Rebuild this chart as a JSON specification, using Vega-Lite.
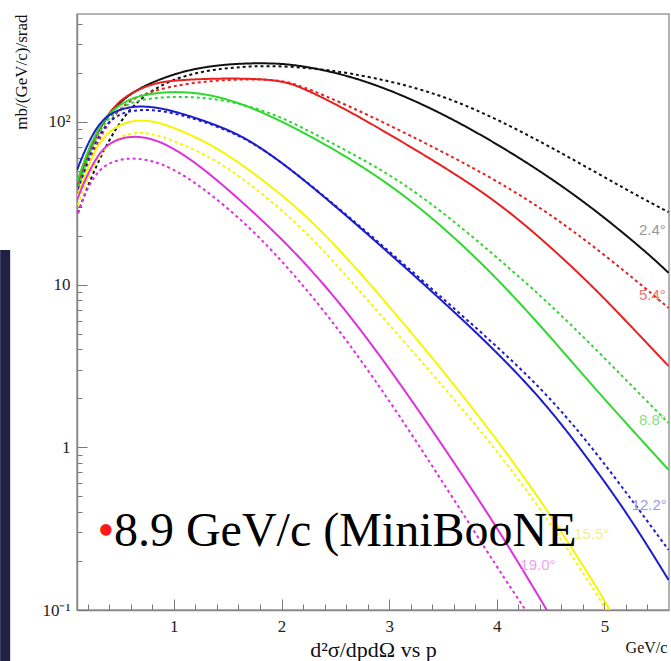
{
  "$schema": "https://vega.github.io/schema/vega-lite/v6.json",
  "width": 592,
  "height": 596,
  "autosize": {"type": "none"},
  "padding": {"left": 77, "top": 14, "right": 2, "bottom": 51},
  "background": "white",
  "config": {"view": {"stroke": "#9a9a9a", "strokeWidth": 1.5}, "font": "Liberation Serif"},
  "resolve": {"scale": {"color": "independent"}},
  "datasets": {
    "curves": [
      {"a": "2.4°", "m": "solid", "p": 0.1, "s": 40.9}, {"a": "2.4°", "m": "solid", "p": 0.174, "s": 58.3}, {"a": "2.4°", "m": "solid", "p": 0.267, "s": 80.7}, {"a": "2.4°", "m": "solid", "p": 0.36, "s": 102.6}, {"a": "2.4°", "m": "solid", "p": 0.452, "s": 123.4}, {"a": "2.4°", "m": "solid", "p": 0.591, "s": 148.3}, {"a": "2.4°", "m": "solid", "p": 0.777, "s": 173.3}, {"a": "2.4°", "m": "solid", "p": 1.055, "s": 202.5}, {"a": "2.4°", "m": "solid", "p": 1.333, "s": 220.4}, {"a": "2.4°", "m": "solid", "p": 1.611, "s": 228.4}, {"a": "2.4°", "m": "solid", "p": 1.889, "s": 229.9}, {"a": "2.4°", "m": "solid", "p": 2.167, "s": 223.6}, {"a": "2.4°", "m": "solid", "p": 2.63, "s": 192.7}, {"a": "2.4°", "m": "solid", "p": 3.093, "s": 149.4}, {"a": "2.4°", "m": "solid", "p": 3.557, "s": 107.1}, {"a": "2.4°", "m": "solid", "p": 4.02, "s": 72.0}, {"a": "2.4°", "m": "solid", "p": 4.484, "s": 46.1}, {"a": "2.4°", "m": "solid", "p": 4.947, "s": 27.7}, {"a": "2.4°", "m": "solid", "p": 5.411, "s": 15.4}, {"a": "2.4°", "m": "solid", "p": 5.596, "s": 11.8},
      {"a": "2.4°", "m": "dashed", "p": 0.109, "s": 27.5}, {"a": "2.4°", "m": "dashed", "p": 0.22, "s": 43.9}, {"a": "2.4°", "m": "dashed", "p": 0.341, "s": 65.3}, {"a": "2.4°", "m": "dashed", "p": 0.452, "s": 89.1}, {"a": "2.4°", "m": "dashed", "p": 0.563, "s": 113.3}, {"a": "2.4°", "m": "dashed", "p": 0.712, "s": 144.1}, {"a": "2.4°", "m": "dashed", "p": 0.962, "s": 180.7}, {"a": "2.4°", "m": "dashed", "p": 1.268, "s": 205.4}, {"a": "2.4°", "m": "dashed", "p": 1.583, "s": 217.3}, {"a": "2.4°", "m": "dashed", "p": 1.889, "s": 222.0}, {"a": "2.4°", "m": "dashed", "p": 2.287, "s": 214.2}, {"a": "2.4°", "m": "dashed", "p": 2.63, "s": 199.6}, {"a": "2.4°", "m": "dashed", "p": 3.093, "s": 173.3}, {"a": "2.4°", "m": "dashed", "p": 3.557, "s": 140.1}, {"a": "2.4°", "m": "dashed", "p": 4.02, "s": 102.6}, {"a": "2.4°", "m": "dashed", "p": 4.484, "s": 71.0}, {"a": "2.4°", "m": "dashed", "p": 4.947, "s": 47.8}, {"a": "2.4°", "m": "dashed", "p": 5.411, "s": 32.2}, {"a": "2.4°", "m": "dashed", "p": 5.596, "s": 27.9},
      {"a": "5.4°", "m": "solid", "p": 0.1, "s": 39.8}, {"a": "5.4°", "m": "solid", "p": 0.174, "s": 55.8}, {"a": "5.4°", "m": "solid", "p": 0.267, "s": 79.6}, {"a": "5.4°", "m": "solid", "p": 0.36, "s": 105.6}, {"a": "5.4°", "m": "solid", "p": 0.499, "s": 136.2}, {"a": "5.4°", "m": "solid", "p": 0.656, "s": 156.9}, {"a": "5.4°", "m": "solid", "p": 0.804, "s": 170.9}, {"a": "5.4°", "m": "solid", "p": 0.962, "s": 179.6}, {"a": "5.4°", "m": "solid", "p": 1.36, "s": 184.7}, {"a": "5.4°", "m": "solid", "p": 1.703, "s": 184.7}, {"a": "5.4°", "m": "solid", "p": 1.981, "s": 179.6}, {"a": "5.4°", "m": "solid", "p": 2.167, "s": 166.1}, {"a": "5.4°", "m": "solid", "p": 2.63, "s": 116.6}, {"a": "5.4°", "m": "solid", "p": 3.093, "s": 77.3}, {"a": "5.4°", "m": "solid", "p": 3.557, "s": 50.6}, {"a": "5.4°", "m": "solid", "p": 4.02, "s": 31.7}, {"a": "5.4°", "m": "solid", "p": 4.484, "s": 17.5}, {"a": "5.4°", "m": "solid", "p": 4.947, "s": 9.0}, {"a": "5.4°", "m": "solid", "p": 5.411, "s": 4.25}, {"a": "5.4°", "m": "solid", "p": 5.596, "s": 3.16},
      {"a": "5.4°", "m": "dashed", "p": 0.1, "s": 35.5}, {"a": "5.4°", "m": "dashed", "p": 0.174, "s": 49.2}, {"a": "5.4°", "m": "dashed", "p": 0.267, "s": 69.1}, {"a": "5.4°", "m": "dashed", "p": 0.36, "s": 91.6}, {"a": "5.4°", "m": "dashed", "p": 0.499, "s": 121.6}, {"a": "5.4°", "m": "dashed", "p": 0.656, "s": 144.1}, {"a": "5.4°", "m": "dashed", "p": 0.962, "s": 166.1}, {"a": "5.4°", "m": "dashed", "p": 1.36, "s": 179.6}, {"a": "5.4°", "m": "dashed", "p": 1.703, "s": 183.3}, {"a": "5.4°", "m": "dashed", "p": 1.981, "s": 180.7}, {"a": "5.4°", "m": "dashed", "p": 2.167, "s": 168.4}, {"a": "5.4°", "m": "dashed", "p": 2.63, "s": 125.1}, {"a": "5.4°", "m": "dashed", "p": 3.093, "s": 89.1}, {"a": "5.4°", "m": "dashed", "p": 3.557, "s": 62.5}, {"a": "5.4°", "m": "dashed", "p": 4.02, "s": 42.7}, {"a": "5.4°", "m": "dashed", "p": 4.484, "s": 27.5}, {"a": "5.4°", "m": "dashed", "p": 4.947, "s": 16.3}, {"a": "5.4°", "m": "dashed", "p": 5.411, "s": 9.13}, {"a": "5.4°", "m": "dashed", "p": 5.596, "s": 7.18},
      {"a": "8.8°", "m": "solid", "p": 0.1, "s": 42.1}, {"a": "8.8°", "m": "solid", "p": 0.174, "s": 59.9}, {"a": "8.8°", "m": "solid", "p": 0.267, "s": 83.0}, {"a": "8.8°", "m": "solid", "p": 0.36, "s": 105.6}, {"a": "8.8°", "m": "solid", "p": 0.499, "s": 128.7}, {"a": "8.8°", "m": "solid", "p": 0.656, "s": 144.1}, {"a": "8.8°", "m": "solid", "p": 0.897, "s": 152.6}, {"a": "8.8°", "m": "solid", "p": 1.119, "s": 152.6}, {"a": "8.8°", "m": "solid", "p": 1.36, "s": 146.2}, {"a": "8.8°", "m": "solid", "p": 1.703, "s": 125.1}, {"a": "8.8°", "m": "solid", "p": 2.167, "s": 89.1}, {"a": "8.8°", "m": "solid", "p": 2.63, "s": 59.9}, {"a": "8.8°", "m": "solid", "p": 3.093, "s": 37.6}, {"a": "8.8°", "m": "solid", "p": 3.557, "s": 21.0}, {"a": "8.8°", "m": "solid", "p": 4.02, "s": 10.66}, {"a": "8.8°", "m": "solid", "p": 4.484, "s": 4.9}, {"a": "8.8°", "m": "solid", "p": 4.947, "s": 2.15}, {"a": "8.8°", "m": "solid", "p": 5.596, "s": 0.727},
      {"a": "8.8°", "m": "dashed", "p": 0.1, "s": 37.1}, {"a": "8.8°", "m": "dashed", "p": 0.174, "s": 54.3}, {"a": "8.8°", "m": "dashed", "p": 0.267, "s": 77.3}, {"a": "8.8°", "m": "dashed", "p": 0.36, "s": 99.8}, {"a": "8.8°", "m": "dashed", "p": 0.499, "s": 121.6}, {"a": "8.8°", "m": "dashed", "p": 0.656, "s": 136.2}, {"a": "8.8°", "m": "dashed", "p": 0.962, "s": 144.1}, {"a": "8.8°", "m": "dashed", "p": 1.425, "s": 140.1}, {"a": "8.8°", "m": "dashed", "p": 1.889, "s": 114.9}, {"a": "8.8°", "m": "dashed", "p": 2.167, "s": 94.3}, {"a": "8.8°", "m": "dashed", "p": 2.63, "s": 65.3}, {"a": "8.8°", "m": "dashed", "p": 3.093, "s": 43.9}, {"a": "8.8°", "m": "dashed", "p": 3.557, "s": 26.0}, {"a": "8.8°", "m": "dashed", "p": 4.02, "s": 14.35}, {"a": "8.8°", "m": "dashed", "p": 4.484, "s": 7.7}, {"a": "8.8°", "m": "dashed", "p": 4.947, "s": 3.85}, {"a": "8.8°", "m": "dashed", "p": 5.411, "s": 1.87}, {"a": "8.8°", "m": "dashed", "p": 5.596, "s": 1.41},
      {"a": "12.2°", "m": "solid", "p": 0.1, "s": 50.6}, {"a": "12.2°", "m": "solid", "p": 0.174, "s": 67.1}, {"a": "12.2°", "m": "solid", "p": 0.267, "s": 89.1}, {"a": "12.2°", "m": "solid", "p": 0.36, "s": 107.1}, {"a": "12.2°", "m": "solid", "p": 0.499, "s": 119.9}, {"a": "12.2°", "m": "solid", "p": 0.656, "s": 125.1}, {"a": "12.2°", "m": "solid", "p": 0.804, "s": 123.4}, {"a": "12.2°", "m": "solid", "p": 0.962, "s": 118.3}, {"a": "12.2°", "m": "solid", "p": 1.268, "s": 102.6}, {"a": "12.2°", "m": "solid", "p": 1.583, "s": 85.4}, {"a": "12.2°", "m": "solid", "p": 1.842, "s": 67.1}, {"a": "12.2°", "m": "solid", "p": 2.167, "s": 46.5}, {"a": "12.2°", "m": "solid", "p": 2.63, "s": 25.6}, {"a": "12.2°", "m": "solid", "p": 3.093, "s": 13.75}, {"a": "12.2°", "m": "solid", "p": 3.557, "s": 7.28}, {"a": "12.2°", "m": "solid", "p": 4.02, "s": 3.74}, {"a": "12.2°", "m": "solid", "p": 4.484, "s": 1.77}, {"a": "12.2°", "m": "solid", "p": 4.947, "s": 0.695}, {"a": "12.2°", "m": "solid", "p": 5.271, "s": 0.342}, {"a": "12.2°", "m": "solid", "p": 5.596, "s": 0.153},
      {"a": "12.2°", "m": "dashed", "p": 0.1, "s": 35.5}, {"a": "12.2°", "m": "dashed", "p": 0.174, "s": 52.0}, {"a": "12.2°", "m": "dashed", "p": 0.267, "s": 74.1}, {"a": "12.2°", "m": "dashed", "p": 0.36, "s": 95.6}, {"a": "12.2°", "m": "dashed", "p": 0.499, "s": 113.3}, {"a": "12.2°", "m": "dashed", "p": 0.656, "s": 118.3}, {"a": "12.2°", "m": "dashed", "p": 0.804, "s": 118.3}, {"a": "12.2°", "m": "dashed", "p": 0.962, "s": 114.9}, {"a": "12.2°", "m": "dashed", "p": 1.268, "s": 101.2}, {"a": "12.2°", "m": "dashed", "p": 1.583, "s": 84.2}, {"a": "12.2°", "m": "dashed", "p": 1.842, "s": 67.1}, {"a": "12.2°", "m": "dashed", "p": 2.167, "s": 46.5}, {"a": "12.2°", "m": "dashed", "p": 2.63, "s": 26.0}, {"a": "12.2°", "m": "dashed", "p": 3.093, "s": 14.15}, {"a": "12.2°", "m": "dashed", "p": 3.557, "s": 7.59}, {"a": "12.2°", "m": "dashed", "p": 4.02, "s": 4.07}, {"a": "12.2°", "m": "dashed", "p": 4.484, "s": 2.07}, {"a": "12.2°", "m": "dashed", "p": 4.947, "s": 0.896}, {"a": "12.2°", "m": "dashed", "p": 5.596, "s": 0.234},
      {"a": "15.5°", "m": "solid", "p": 0.1, "s": 34.5}, {"a": "15.5°", "m": "solid", "p": 0.174, "s": 47.1}, {"a": "15.5°", "m": "solid", "p": 0.267, "s": 67.1}, {"a": "15.5°", "m": "solid", "p": 0.36, "s": 83.0}, {"a": "15.5°", "m": "solid", "p": 0.499, "s": 97.0}, {"a": "15.5°", "m": "solid", "p": 0.656, "s": 102.6}, {"a": "15.5°", "m": "solid", "p": 0.804, "s": 101.2}, {"a": "15.5°", "m": "solid", "p": 0.962, "s": 94.3}, {"a": "15.5°", "m": "solid", "p": 1.268, "s": 77.3}, {"a": "15.5°", "m": "solid", "p": 1.583, "s": 58.3}, {"a": "15.5°", "m": "solid", "p": 2.167, "s": 29.5}, {"a": "15.5°", "m": "solid", "p": 2.63, "s": 14.15}, {"a": "15.5°", "m": "solid", "p": 3.093, "s": 6.23}, {"a": "15.5°", "m": "solid", "p": 3.557, "s": 2.66}, {"a": "15.5°", "m": "solid", "p": 4.02, "s": 1.077}, {"a": "15.5°", "m": "solid", "p": 4.484, "s": 0.4}, {"a": "15.5°", "m": "solid", "p": 4.947, "s": 0.133}, {"a": "15.5°", "m": "solid", "p": 5.132, "s": 0.0796},
      {"a": "15.5°", "m": "dashed", "p": 0.109, "s": 30.8}, {"a": "15.5°", "m": "dashed", "p": 0.174, "s": 40.9}, {"a": "15.5°", "m": "dashed", "p": 0.267, "s": 55.8}, {"a": "15.5°", "m": "dashed", "p": 0.36, "s": 69.1}, {"a": "15.5°", "m": "dashed", "p": 0.499, "s": 81.8}, {"a": "15.5°", "m": "dashed", "p": 0.656, "s": 86.6}, {"a": "15.5°", "m": "dashed", "p": 0.804, "s": 84.2}, {"a": "15.5°", "m": "dashed", "p": 0.962, "s": 78.4}, {"a": "15.5°", "m": "dashed", "p": 1.268, "s": 64.3}, {"a": "15.5°", "m": "dashed", "p": 1.583, "s": 48.5}, {"a": "15.5°", "m": "dashed", "p": 2.167, "s": 23.6}, {"a": "15.5°", "m": "dashed", "p": 2.63, "s": 10.81}, {"a": "15.5°", "m": "dashed", "p": 3.093, "s": 4.83}, {"a": "15.5°", "m": "dashed", "p": 3.557, "s": 2.15}, {"a": "15.5°", "m": "dashed", "p": 4.02, "s": 0.922}, {"a": "15.5°", "m": "dashed", "p": 4.484, "s": 0.357}, {"a": "15.5°", "m": "dashed", "p": 4.947, "s": 0.12}, {"a": "15.5°", "m": "dashed", "p": 5.132, "s": 0.0753},
      {"a": "19.0°", "m": "solid", "p": 0.1, "s": 33.1}, {"a": "19.0°", "m": "solid", "p": 0.174, "s": 43.9}, {"a": "19.0°", "m": "solid", "p": 0.267, "s": 58.3}, {"a": "19.0°", "m": "solid", "p": 0.36, "s": 71.0}, {"a": "19.0°", "m": "solid", "p": 0.499, "s": 79.6}, {"a": "19.0°", "m": "solid", "p": 0.656, "s": 81.8}, {"a": "19.0°", "m": "solid", "p": 0.804, "s": 78.4}, {"a": "19.0°", "m": "solid", "p": 0.962, "s": 71.0}, {"a": "19.0°", "m": "solid", "p": 1.24, "s": 54.3}, {"a": "19.0°", "m": "solid", "p": 1.703, "s": 29.5}, {"a": "19.0°", "m": "solid", "p": 2.167, "s": 14.98}, {"a": "19.0°", "m": "solid", "p": 2.63, "s": 6.59}, {"a": "19.0°", "m": "solid", "p": 3.093, "s": 2.52}, {"a": "19.0°", "m": "solid", "p": 3.557, "s": 0.896}, {"a": "19.0°", "m": "solid", "p": 4.02, "s": 0.31}, {"a": "19.0°", "m": "solid", "p": 4.465, "s": 0.0999}, {"a": "19.0°", "m": "solid", "p": 4.576, "s": 0.0753},
      {"a": "19.0°", "m": "dashed", "p": 0.109, "s": 27.5}, {"a": "19.0°", "m": "dashed", "p": 0.174, "s": 36.5}, {"a": "19.0°", "m": "dashed", "p": 0.267, "s": 47.1}, {"a": "19.0°", "m": "dashed", "p": 0.36, "s": 54.3}, {"a": "19.0°", "m": "dashed", "p": 0.499, "s": 59.1}, {"a": "19.0°", "m": "dashed", "p": 0.656, "s": 59.9}, {"a": "19.0°", "m": "dashed", "p": 0.804, "s": 57.4}, {"a": "19.0°", "m": "dashed", "p": 0.962, "s": 52.8}, {"a": "19.0°", "m": "dashed", "p": 1.24, "s": 40.9}, {"a": "19.0°", "m": "dashed", "p": 1.703, "s": 22.9}, {"a": "19.0°", "m": "dashed", "p": 2.167, "s": 10.66}, {"a": "19.0°", "m": "dashed", "p": 2.63, "s": 4.37}, {"a": "19.0°", "m": "dashed", "p": 3.093, "s": 1.58}, {"a": "19.0°", "m": "dashed", "p": 3.557, "s": 0.531}, {"a": "19.0°", "m": "dashed", "p": 4.02, "s": 0.176}, {"a": "19.0°", "m": "dashed", "p": 4.28, "s": 0.0971}, {"a": "19.0°", "m": "dashed", "p": 4.391, "s": 0.0753}
    ],
    "edgeLabels": [
      {"a": "2.4°", "p": 5.57, "s": 21.6},
      {"a": "5.4°", "p": 5.57, "s": 8.63},
      {"a": "8.8°", "p": 5.57, "s": 1.47},
      {"a": "12.2°", "p": 5.58, "s": 0.442}
    ],
    "innerLabels": [
      {"a": "15.5°", "p": 4.882, "s": 0.293},
      {"a": "19.0°", "p": 4.382, "s": 0.189}
    ]
  },
  "encoding": {
    "x": {
      "field": "p",
      "type": "quantitative",
      "scale": {"type": "linear", "domain": [0.1, 5.6], "nice": false, "zero": false},
      "axis": {
        "title": "d²σ/dpdΩ vs p",
        "titleFont": "Liberation Serif",
        "titleFontSize": 22,
        "titleFontWeight": "normal",
        "titleColor": "#111",
        "titleY": 46,
        "titleBaseline": "alphabetic",
        "values": [0.2, 0.4, 0.6, 0.8, 1, 1.2, 1.4, 1.6, 1.8, 2, 2.2, 2.4, 2.6, 2.8, 3, 3.2, 3.4, 3.6, 3.8, 4, 4.2, 4.4, 4.6, 4.8, 5, 5.2, 5.4],
        "labelExpr": "abs(datum.value - round(datum.value)) < 0.001 ? format(datum.value, 'd') : ''",
        "labelFont": "Liberation Serif",
        "labelFontSize": 17,
        "labelColor": "#222",
        "labelPadding": 19,
        "labelFlush": false,
        "labelOverlap": false,
        "tickSize": {"condition": {"test": "abs(datum.value - round(datum.value)) < 0.001", "value": -11}, "value": -6},
        "tickColor": "#777",
        "tickWidth": 1,
        "domainColor": "#888",
        "domainWidth": 1.5,
        "grid": false
      }
    },
    "y": {
      "field": "s",
      "type": "quantitative",
      "scale": {"type": "log", "domain": [0.1, 460], "nice": false},
      "axis": {
        "title": "mb/(GeV/c)/srad",
        "titleFont": "Liberation Serif",
        "titleFontSize": 17,
        "titleFontWeight": "normal",
        "titleColor": "#111",
        "titleAngle": -90,
        "titleAlign": "right",
        "titleBaseline": "middle",
        "titleX": -56,
        "titleY": 0,
        "values": [0.1, 0.2, 0.3, 0.4, 0.5, 0.6, 0.7, 0.8, 0.9, 1, 2, 3, 4, 5, 6, 7, 8, 9, 10, 20, 30, 40, 50, 60, 70, 80, 90, 100, 200, 300, 400],
        "labelExpr": "datum.value == 100 ? '10²' : datum.value == 10 ? '10' : datum.value == 1 ? '1' : datum.value == 0.1 ? '10⁻¹' : ''",
        "labelFont": "Liberation Serif",
        "labelFontSize": 17,
        "labelColor": "#222",
        "labelPadding": 17,
        "labelFlush": false,
        "labelOverlap": false,
        "tickSize": {"condition": {"test": "datum.value == 100 || datum.value == 10 || datum.value == 1 || datum.value == 0.1", "value": -10}, "value": -5},
        "tickColor": "#777",
        "tickWidth": 1,
        "domainColor": "#888",
        "domainWidth": 1.5,
        "grid": false
      }
    }
  },
  "layer": [
    {
      "data": {"values": [{"p": -0.614, "p2": -0.521, "s": 16.3, "s2": 0.0486}]},
      "mark": {"type": "rect", "color": "#221f47", "clip": false},
      "encoding": {"x2": {"field": "p2"}, "y2": {"field": "s2"}}
    },
    {
      "data": {"name": "curves"},
      "mark": {"type": "line", "strokeWidth": 2, "clip": true, "interpolate": "basis"},
      "encoding": {
        "color": {
          "field": "a",
          "type": "nominal",
          "scale": {"domain": ["2.4°", "5.4°", "8.8°", "12.2°", "15.5°", "19.0°"], "range": ["#111111", "#e82020", "#2fd82f", "#1c1ccc", "#f6f600", "#de30de"]},
          "legend": null
        },
        "strokeDash": {
          "field": "m",
          "type": "nominal",
          "scale": {"domain": ["solid", "dashed"], "range": [[1, 0], [3, 3]]},
          "legend": null
        }
      }
    },
    {
      "data": {"name": "edgeLabels"},
      "mark": {"type": "text", "align": "right", "baseline": "middle", "font": "Liberation Sans", "fontSize": 15},
      "encoding": {
        "text": {"field": "a"},
        "color": {
          "field": "a",
          "type": "nominal",
          "scale": {"domain": ["2.4°", "5.4°", "8.8°", "12.2°"], "range": ["#999999", "#f07272", "#88e088", "#9a9ae8"]},
          "legend": null
        }
      }
    },
    {
      "data": {"name": "innerLabels"},
      "mark": {"type": "text", "align": "center", "baseline": "middle", "font": "Liberation Sans", "fontSize": 15},
      "encoding": {
        "text": {"field": "a"},
        "color": {
          "field": "a",
          "type": "nominal",
          "scale": {"domain": ["15.5°", "19.0°"], "range": ["#f0f08a", "#eea0ee"]},
          "legend": null
        }
      }
    },
    {
      "data": {"values": [{"p": 0.29, "s": 0.247, "t": "•"}]},
      "mark": {"type": "text", "align": "left", "baseline": "alphabetic", "font": "Liberation Serif", "fontSize": 48, "color": "#ff1a1a"},
      "encoding": {"text": {"field": "t"}}
    },
    {
      "data": {"values": [{"p": 0.443, "s": 0.247, "t": "8.9 GeV/c (MiniBooNE"}]},
      "mark": {"type": "text", "align": "left", "baseline": "alphabetic", "font": "Liberation Serif", "fontSize": 48, "color": "#000000"},
      "encoding": {"text": {"field": "t"}}
    },
    {
      "data": {"values": [{"p": 5.197, "s": 0.0583, "t": "GeV/c"}]},
      "mark": {"type": "text", "align": "left", "baseline": "middle", "font": "Liberation Serif", "fontSize": 16, "color": "#111111", "clip": false},
      "encoding": {"text": {"field": "t"}}
    }
  ]
}
